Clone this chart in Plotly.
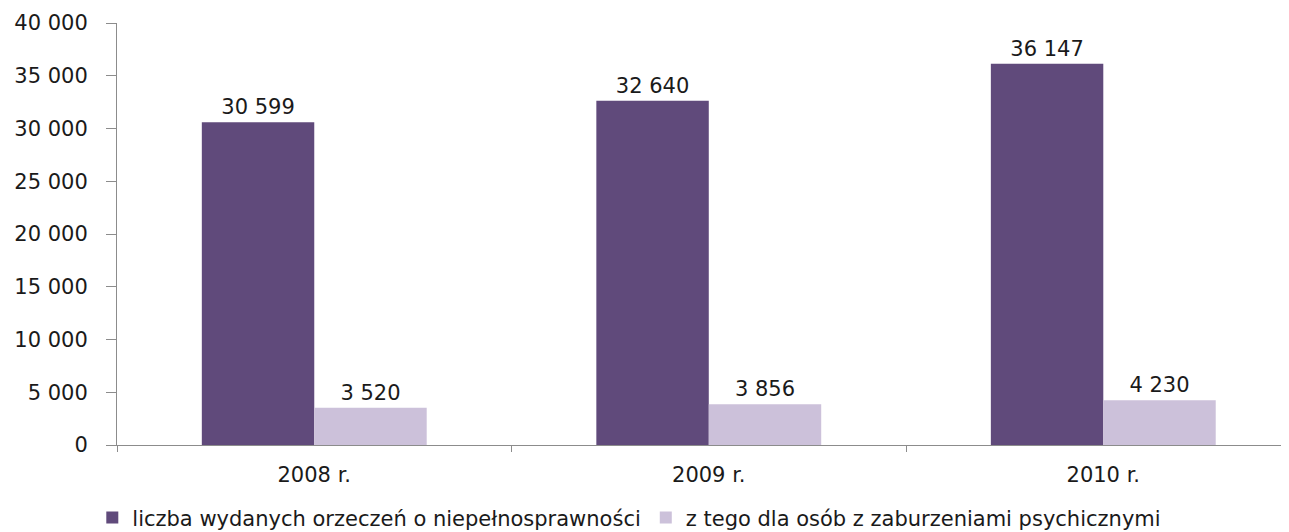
import plotly.graph_objects as go

years = ["2008 r.", "2009 r.", "2010 r."]
orzeczenia = [30599, 32640, 36147]
psychiczne = [3520, 3856, 4230]

name_all = "liczba wydanych orzeczeń o niepełnosprawności"
name_psych = "z tego dla osób z zaburzeniami psychicznymi"

font_family = "DejaVu Sans, sans-serif"
txt_color = "#1a1a1a"
axis_color = "#8C8C8C"
fs = 21

fig = go.Figure()
fig.add_trace(go.Bar(
    x=years, y=orzeczenia, name=name_all,
    marker=dict(color="#604A7B", line_width=0),
    texttemplate="%{y:,d}", textposition="outside",
    textfont=dict(size=fs, color=txt_color), cliponaxis=False,
))
fig.add_trace(go.Bar(
    x=years, y=psychiczne, name=name_psych,
    marker=dict(color="#CCC1DA", line_width=0),
    texttemplate="%{y:,d}", textposition="outside",
    textfont=dict(size=fs, color=txt_color), cliponaxis=False,
))

# page body has an 8px margin; the x axis runs past the right edge like in the original
fig.update_layout(
    width=1289, height=524,
    barmode="group", bargap=0.43, bargroupgap=0,
    separators=", ",
    plot_bgcolor="white", paper_bgcolor="white",
    margin=dict(t=15, l=109, r=0, b=87, autoexpand=False),
    font=dict(family=font_family, size=fs, color=txt_color),
    showlegend=True,
    legend=dict(
        orientation="h", xref="container", x=0.482, xanchor="center",
        yref="container", y=0.027, yanchor="middle",
        font=dict(size=fs), itemwidth=30, traceorder="normal",
    ),
    xaxis=dict(
        range=[-0.5, 2.491], showline=True, linecolor=axis_color, linewidth=1,
        ticks="outside", tickson="boundaries", ticklen=6, tickcolor=axis_color,
        showgrid=False, tickfont=dict(size=fs), automargin=False,
        ticklabelstandoff=11,
    ),
    yaxis=dict(
        range=[0, 40000], dtick=5000, tickformat=",d",
        showline=True, linecolor=axis_color, linewidth=1,
        ticks="outside", ticklen=10, tickcolor=axis_color,
        showgrid=False, zeroline=False, tickfont=dict(size=fs),
        automargin=False, ticklabelstandoff=14,
    ),
)

fig.write_html("out.html")
